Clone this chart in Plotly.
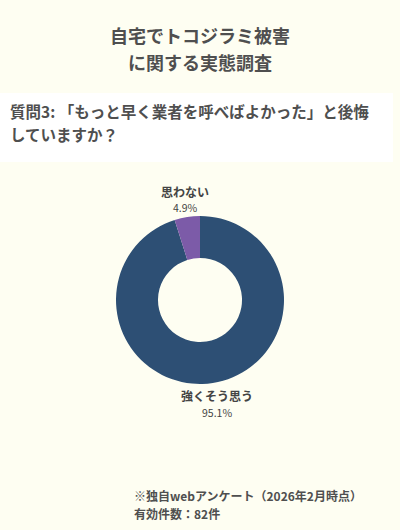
import plotly.graph_objects as go

W, H = 400, 530

labels = ["強くそう思う", "思わない"]
counts = [78, 4]
colors = ["#2d4f74", "#7c5ba8"]

title_lines = ["自宅でトコジラミ被害", "に関する実態調査"]
question_lines = ["質問3: 「もっと早く業者を呼べばよかった」と後悔", "していますか？"]
note_lines = ["※独自webアンケート（2026年2月時点）", "有効件数：82件"]

FONT = "Noto Sans CJK JP"
TEXT = "#4f4f4f"
BG = "#fefef2"

total = sum(counts)
pcts = [c / total * 100 for c in counts]


def py(px):
    # pixel from top -> paper y
    return 1 - px / H


fig = go.Figure(
    go.Pie(
        labels=labels,
        values=counts,
        hole=0.5,
        sort=False,
        direction="clockwise",
        rotation=0,
        marker={"colors": colors, "line": {"width": 0}},
        textinfo="none",
        hoverinfo="label+percent",
        domain={"x": [0, 1], "y": [py(384), py(216)]},
        showlegend=False,
    )
)

annotations = []
for i, line in enumerate(title_lines):
    annotations.append(dict(text=f"<b>{line}</b>", x=0.5, y=py(35 + i * 27), xanchor="center",
                            yanchor="middle", font={"size": 18, "color": TEXT}))
for i, line in enumerate(question_lines):
    annotations.append(dict(text=f"<b>{line}</b>", x=9 / W, y=py(111 + i * 23), xanchor="left",
                            yanchor="middle", font={"size": 15.5, "color": TEXT}))
for i, line in enumerate(note_lines):
    annotations.append(dict(text=f"<b>{line}</b>", x=133 / W, y=py(495 + i * 18), xanchor="left",
                            yanchor="middle", font={"size": 12, "color": TEXT}))

# slice labels
label_pos = [(217, 396), (185, 191)]
for lab, pct, (lx, ly) in zip(labels, pcts, label_pos):
    annotations.append(dict(text=f"<b>{lab}</b>", x=lx / W, y=py(ly), xanchor="center",
                            yanchor="middle", font={"size": 12, "color": "#444444"}))
    annotations.append(dict(text=f"{pct:.1f}%", x=lx / W, y=py(ly + 16), xanchor="center",
                            yanchor="middle", font={"size": 10.5, "color": "#444444"}))

for a in annotations:
    a.update(xref="paper", yref="paper", showarrow=False, borderpad=0)

fig.update_layout(
    width=W,
    height=H,
    margin={"l": 0, "r": 0, "t": 0, "b": 0},
    paper_bgcolor=BG,
    plot_bgcolor=BG,
    font={"family": FONT, "color": TEXT},
    annotations=annotations,
    shapes=[
        dict(type="rect", xref="paper", yref="paper", x0=0, x1=393 / W, y0=py(162), y1=py(93),
             fillcolor="white", line={"width": 0}, layer="above")
    ],
)

fig.write_html(
    "out.html",
    config={"displayModeBar": False},
    post_script="document.body.style.margin='0';",
)
